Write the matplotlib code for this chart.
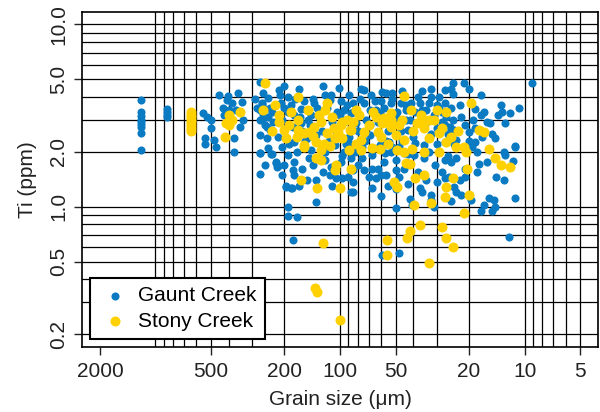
import matplotlib
matplotlib.use("Agg")
import matplotlib.pyplot as plt
import matplotlib.ticker as mticker

plt.rcParams['font.family'] = ['Liberation Sans', 'DejaVu Sans']

# Gaunt Creek: grain size (um) and Ti (ppm)
gaunt_grain = [
    1200, 1200, 1200, 1200, 1200, 1200, 1200, 1200, 1200,
    870, 870, 870, 870,
    550, 525, 540, 540, 480, 470, 500, 500, 375, 350, 335, 375,
    450, 405, 355, 410, 385, 365, 430, 400, 340, 425,
    273, 280, 265, 262, 250, 273, 273, 235, 222, 220, 197, 183, 205,
    200, 124, 215, 212, 246, 192, 156, 138, 120, 112, 113, 99, 89,
    266, 273, 256, 241, 233, 200, 192, 177, 162, 151, 143, 133, 104, 95, 87,
    266, 256, 241, 273, 250, 217, 192, 180, 162, 177, 151, 135, 127, 107, 91, 89,
    166, 101,
    77, 74, 59, 56, 52, 46, 36, 32, 32, 29, 27,
    85, 74, 65, 60, 53, 47, 41, 37, 33, 30, 27,
    82, 69, 61, 49, 44, 39, 34, 28,
    82, 69, 44, 43, 30, 27, 69, 54, 40, 27, 85, 61, 48, 35, 89,
    24.5, 21.3, 20, 25, 24.5, 17.3, 9.1, 22.5, 25, 18.5, 17.3, 16.6, 13.5,
    13.2, 12, 10.7, 26.5, 24.5, 15.3, 12.7, 25.5, 24, 20, 18.5, 14.4,
    23.5, 18.5, 11.2,
    273, 237, 223, 218, 273, 192, 177, 180, 178, 195, 184, 166, 151, 135,
    135, 192, 192, 170, 124, 114, 105, 97, 112, 99, 87, 95, 87, 147, 144, 180,
    87, 76, 67, 57, 58, 50, 85, 74, 67, 64, 60, 56, 85, 85, 67, 50, 43, 37,
    32, 30, 27, 30.5, 35, 50, 40.5, 31, 32, 45, 39.6, 52, 60, 76, 59, 48,
    27, 23.5, 17.7, 16, 12.7, 11.5, 18, 19.3, 11.2, 25.6, 22.4, 21, 24,
    23.4, 22, 14.2, 12.9, 25, 19.4, 15.6, 14.7, 16.6, 14.4, 11.2, 17.2, 15,
    12.2,
    290, 260, 245, 230, 210, 205, 185, 175, 165, 160, 150, 145, 140, 130,
    125, 118, 110, 105, 100, 95, 92, 85, 80, 78, 72, 68, 64, 62, 58, 55,
    52, 50, 47, 44, 42, 40, 38, 36, 34, 32, 31, 29, 28, 26, 23, 22, 21, 19,
    17, 16, 15, 14,
    190, 170, 155, 120, 115, 98, 93, 83, 73, 66, 56, 53, 46, 43, 39, 33, 30,
    26, 24, 20,
    245, 255, 205, 200, 160, 140, 120, 110, 90, 80, 70, 62, 55, 48, 45, 38,
    34, 28, 25, 21, 18, 13, 60, 50, 42, 36,
]
gaunt_ti = [
    3.85, 3.3, 3.15, 3.0, 2.95, 2.85, 2.75, 2.55, 2.05,
    3.45, 3.3, 3.2, 3.1,
    3.25, 3.1, 2.37, 2.22, 2.32, 2.12, 2.98, 2.7, 2.0, 2.75, 2.98, 2.37,
    4.1, 4.05, 4.2, 3.84, 3.7, 3.38, 3.5, 3.38, 3.75, 3.18,
    4.85, 3.5, 3.65, 3.18, 2.75, 2.98, 1.98, 1.95, 1.74, 1.65, 1.29, 1.27, 2.12,
    4.6, 4.6, 4.36, 4.09, 3.95, 4.0, 3.78, 3.7, 4.09, 4.09, 3.84, 3.78, 4.09,
    3.7, 3.38, 3.42, 3.5, 3.3, 3.5, 3.3, 3.18, 3.42, 3.38, 3.18, 3.5, 3.3, 3.38, 3.25,
    2.98, 2.8, 2.63, 2.47, 2.37, 2.4, 2.8, 2.75, 2.88, 2.27, 2.37, 2.47, 2.18, 2.18, 2.27, 2.1,
    4.4, 4.5,
    4.45, 4.36, 4.27, 4.2, 4.2, 4.3, 4.3, 4.45, 4.0, 4.0, 4.36,
    3.7, 3.7, 3.78, 3.78, 3.7, 3.7, 3.7, 3.7, 3.7, 3.6, 3.7,
    3.3, 3.38, 3.25, 3.3, 3.38, 3.3, 3.38, 3.3,
    2.88, 2.8, 2.98, 2.63, 2.7, 2.8, 2.47, 2.27, 2.4, 2.27, 2.18, 2.18, 2.12, 2.18, 2.4,
    4.75, 4.75, 4.45, 4.45, 4.15, 4.1, 4.75, 3.6, 3.5, 3.42, 3.18, 3.3, 3.6,
    3.3, 3.25, 3.5, 3.1, 2.98, 2.88, 2.88, 2.75, 2.63, 2.58, 2.7, 2.37,
    2.32, 2.27, 2.15,
    1.98, 1.95, 1.76, 1.68, 1.52, 1.92, 1.76, 1.59, 1.49, 1.3, 1.27, 1.3, 1.4, 1.4,
    1.06, 1.0, 0.89, 0.88, 1.56, 1.49, 1.43, 1.43, 1.65, 1.76, 1.62, 2.0, 1.2, 1.86, 2.04, 0.66,
    1.86, 1.86, 1.92, 1.96, 1.76, 1.8, 1.59, 1.59, 1.62, 1.43, 1.49, 1.49, 1.37, 1.2, 1.26, 1.59, 1.33, 1.26,
    1.16, 1.37, 1.43, 1.69, 1.86, 0.98, 1.02, 1.0, 1.09, 1.96, 1.92, 2.12, 2.12, 2.12, 0.54, 0.56,
    1.8, 1.86, 1.72, 1.76, 1.92, 1.78, 2.0, 2.12, 2.12, 1.46, 1.4, 1.46, 1.28,
    1.2, 1.16, 1.46, 1.4, 1.07, 1.09, 1.12, 1.09, 1.02, 1.0, 1.12, 0.95, 0.95,
    0.68,
    3.9, 4.2, 3.1, 2.9, 3.7, 3.0, 3.6, 3.9, 3.1, 2.6, 3.0, 2.8, 3.9, 3.1,
    2.6, 3.5, 2.9, 2.6, 3.2, 2.9, 3.6, 3.3, 2.6, 3.9, 3.0, 4.1, 3.4, 2.9, 3.5, 2.6,
    3.9, 3.1, 2.6, 3.6, 3.0, 2.6, 4.0, 3.4, 2.9, 2.5, 3.2, 3.5, 2.9, 2.5, 2.6, 3.1, 2.8, 3.0,
    2.4, 2.9, 2.5, 3.2,
    2.2, 2.0, 2.3, 2.0, 2.3, 1.9, 2.2, 2.0, 2.3, 2.1, 2.3, 2.0, 2.3, 1.95, 2.25, 2.0, 2.2,
    1.9, 2.2, 2.3,
    2.1, 1.7, 1.5, 1.7, 1.6, 1.7, 1.8, 1.3, 1.45, 1.7, 1.45, 1.6, 1.3, 1.45, 1.6, 1.55,
    1.4, 1.55, 1.75, 1.6, 1.55, 2.0, 1.15, 1.25, 1.1, 1.2,
]

# Stony Creek
stony_grain = [
    640, 640, 640, 640, 640, 640, 640, 640,
    400, 385, 400, 420, 350, 415,
    255, 168, 225, 118, 120, 213, 213, 168, 138, 126, 110, 97, 99,
    233, 200, 168, 156, 148, 117, 103, 195, 172, 135, 156, 122, 107, 98, 88,
    45, 79, 64, 58, 53, 53, 36.5, 35, 31, 30, 59, 48, 38.5, 35, 85, 87, 74,
    62.5, 60, 53, 50, 33, 29, 45, 77,
    19.5, 26.5, 17.7, 16.6, 26.5, 23.5, 21.3, 15.6,
    162, 133, 100, 107, 105, 135, 127, 156, 127, 89,
    77, 61, 49, 45, 40.5, 35, 29, 44, 42, 87, 51, 49, 39, 35, 27, 39.6, 32, 37,
    20.7, 14.4, 13.5, 12, 20.5, 24.5, 26.5, 20, 21.3,
    42, 43.5, 28, 26.5, 24.5, 33, 55.5, 55.5, 123, 136, 133, 100,
    260, 185, 150, 130, 108, 92, 82, 70, 66, 56, 46, 41, 40, 33, 28, 25, 23,
    82, 67, 55, 140, 113, 190,
]
stony_ti = [
    3.3, 3.2, 3.1, 3.0, 2.9, 2.8, 2.7, 2.6,
    3.18, 2.98, 2.8, 2.4, 3.3, 2.88,
    4.8, 4.0, 3.6, 3.7, 3.38, 3.18, 2.9, 2.98, 2.75, 2.92, 3.1, 2.92, 2.8,
    2.6, 2.63, 2.63, 2.53, 2.57, 2.53, 2.57, 2.37, 2.42, 2.27, 2.18, 2.22, 2.37, 2.37, 2.63,
    4.07, 3.18, 3.1, 3.05, 3.25, 2.98, 3.18, 2.98, 2.98, 3.38, 2.88, 2.8, 2.88, 2.7, 2.92, 2.63, 2.58,
    2.58, 2.42, 2.75, 2.47, 2.37, 2.53, 2.32, 2.32,
    3.7, 3.3, 2.63, 2.58, 2.27, 2.12, 2.12, 2.08,
    1.4, 1.27, 1.27, 1.59, 1.69, 1.86, 1.8, 2.12, 2.04, 2.04,
    2.04, 2.08, 2.04, 2.0, 2.08, 2.0, 2.0, 1.74, 1.72, 1.62, 1.37, 1.28, 1.43, 1.49, 1.13, 1.02, 1.05, 0.79,
    2.0, 1.86, 1.69, 1.66, 1.62, 1.43, 1.28, 1.16, 0.92,
    0.74, 0.67, 0.77, 0.67, 0.6, 0.49, 0.54, 0.66, 0.63, 0.36, 0.34, 0.24,
    3.4, 3.3, 3.4, 3.2, 2.7, 3.0, 3.4, 2.8, 3.3, 2.9, 3.0, 3.4, 2.6, 3.0, 2.7, 2.4, 2.6,
    2.2, 2.1, 2.2, 2.45, 2.15, 2.8,
]

x_ticks = [2000, 500, 200, 100, 50, 20, 10, 5]
y_ticks = [0.2, 0.5, 1.0, 2.0, 5.0, 10.0]
x_grid = [4, 5, 6, 7, 8, 9, 10, 20, 30, 40, 50, 60, 70, 80, 90, 100,
          200, 300, 400, 500, 600, 700, 800, 900, 1000]
y_grid = [0.2, 0.3, 0.4, 0.5, 0.6, 0.7, 0.8, 0.9, 1, 2, 3, 4, 5, 6, 7, 8, 9, 10]

fig = plt.figure(figsize=(6, 4.12), dpi=100)
ax = fig.add_axes([0.1367, 0.1578, 0.86, 0.8131])
ax.set_xscale('log')
ax.set_yscale('log')
ax.set_xlim(2500, 4)
ax.set_ylim(0.17, 11.7)

for g in x_grid:
    ax.axvline(g, color='black', lw=0.9, zorder=1)
for g in y_grid:
    ax.axhline(g, color='black', lw=0.9, zorder=1)

ax.scatter(gaunt_grain, gaunt_ti, s=34, color='#0a7bc2', lw=0, zorder=2, label='Gaunt Creek')
ax.scatter(stony_grain, stony_ti, s=52, color='#ffd100', lw=0, zorder=3, label='Stony Creek')

ax.xaxis.set_major_locator(mticker.FixedLocator(x_ticks))
ax.xaxis.set_minor_locator(mticker.NullLocator())
ax.xaxis.set_major_formatter(mticker.FixedFormatter([str(v) for v in x_ticks]))
ax.yaxis.set_major_locator(mticker.FixedLocator(y_ticks))
ax.yaxis.set_minor_locator(mticker.NullLocator())
ax.yaxis.set_major_formatter(mticker.FixedFormatter(['%.1f' % v for v in y_ticks]))
ax.tick_params(axis='both', labelsize=15, length=6, width=1, colors='#222222')
ax.tick_params(axis='x', pad=5)
ax.tick_params(axis='y', pad=4)
for lab in ax.get_yticklabels():
    lab.set_rotation(90)
    lab.set_va('center')

for sp in ax.spines.values():
    sp.set_linewidth(1.2)
    sp.set_zorder(4)

ax.set_xlabel('Grain size (μm)', fontsize=15, color='#222222', labelpad=6)
ax.set_ylabel('Ti (ppm)', fontsize=15, color='#222222', labelpad=9)

leg = ax.legend(loc='lower left', bbox_to_anchor=(0.0155, 0.024), borderaxespad=0,
                fontsize=15, fancybox=False, framealpha=1, edgecolor='black',
                handletextpad=0.3, borderpad=0.4, labelspacing=0.3, handlelength=1.6)
leg.get_frame().set_linewidth(1.5)
leg.set_zorder(5)

fig.savefig('out.png', dpi=100)
